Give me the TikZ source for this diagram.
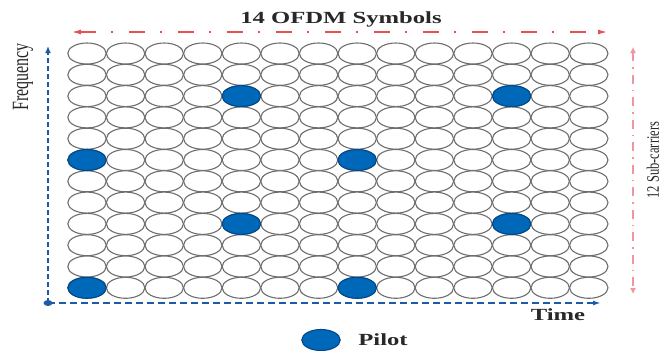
\documentclass[tikz,border=0pt]{standalone}
\usepackage{fontspec}
\usepackage{graphicx}
\setmainfont{Liberation Serif}
\usetikzlibrary{arrows.meta,shapes.geometric}
\definecolor{pilotblue}{RGB}{0,104,184}
\definecolor{pilotedge}{RGB}{0,72,140}
\definecolor{axisblue}{RGB}{30,90,170}
\definecolor{dimred}{RGB}{232,80,80}
\definecolor{dimpink}{RGB}{240,150,160}
\definecolor{cellgray}{RGB}{110,110,110}
\definecolor{textgray}{RGB}{40,40,40}
\begin{document}
\begin{tikzpicture}[x=1pt,y=-1pt,
  cell/.style={ellipse, draw=cellgray, line width=1.1pt, fill=white,
    minimum width=38.4pt, minimum height=21pt, inner sep=0pt},
  pilot/.style={cell, draw=pilotedge, fill=pilotblue},
  axisline/.style={draw=axisblue, line width=1.8pt},
  vdash/.style={dash pattern=on 5pt off 3pt},
  hdash/.style={dash pattern=on 7pt off 4pt},
  dimline/.style={line width=1.1pt, dash pattern=on 16pt off 15pt on 2pt off 16pt},
  vdimline/.style={line width=1.1pt, dash pattern=on 9pt off 6pt on 1.5pt off 6pt},
  hlabel/.style={text=textgray, inner sep=0pt, font=\bfseries\fontsize{17}{20}\selectfont},
  vlabel/.style={text=textgray, inner sep=0pt, rotate=90}]
\useasboundingbox (0,0) rectangle (665,351);
% grid of resource elements
\foreach \r in {1,...,12}{
  \foreach \c in {1,...,14}{
    \node[cell] (g-\r-\c) at ({87+(\c-1)*38.6},{53.5+(\r-1)*21.3}) {};
  }
}
% pilots
\foreach \r/\c in {3/5,3/12,6/1,6/8,9/5,9/12,12/1,12/8}{
  \node[pilot] (p-\r-\c) at (g-\r-\c) {};
}
% blue axes
\coordinate (origin) at (48,303);
\coordinate (ftop) at (48,46);
\coordinate (tend) at (601,303);
\draw[axisline, vdash, -{Latex[length=7pt,width=6pt]}] (origin) -- (ftop);
\draw[axisline, hdash, -{Latex[length=8pt,width=5pt]}] (origin) -- (tend);
\fill[axisblue] (origin) ellipse [x radius=4.5pt, y radius=3pt];
% red dimension arrows
\coordinate (hl) at (72,32);
\coordinate (hr) at (607,32);
\draw[dimred, dimline, {Latex[length=9pt,width=5pt]}-{Latex[length=9pt,width=5pt]}] (hl) -- (hr);
\coordinate (vt) at (633,47);
\coordinate (vb) at (633,294);
\draw[dimpink, vdimline, {Latex[length=6pt,width=6pt]}-{Latex[length=6pt,width=6pt]}] (vt) -- (vb);
% labels
\node[hlabel] (symlabel) at (341,19) {\scalebox{1.45}[1]{14 OFDM Symbols}};
\node[vlabel, font=\fontsize{16}{19}\selectfont] (freq) at (23,77) {\scalebox{1}[1.45]{Frequency}};
\node[vlabel, font=\fontsize{12.5}{15}\selectfont] (sub) at (653,160) {\scalebox{1}[1.4]{12 Sub-carriers}};
\node[hlabel] (time) at (558,315) {\scalebox{1.45}[1]{Time}};
% legend
\node[pilot] (legend) at (321,340) {};
\node[hlabel] (pilotlabel) at (383,340) {\scalebox{1.45}[1]{Pilot}};
\end{tikzpicture}
\end{document}
